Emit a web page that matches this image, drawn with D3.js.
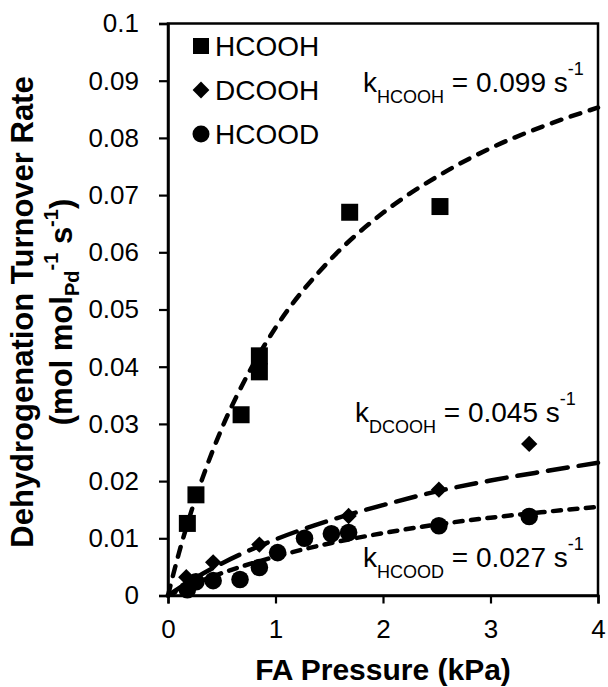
<!DOCTYPE html>
<html>
<head>
<meta charset="utf-8">
<script src="https://cdn.jsdelivr.net/npm/d3@7"></script>
<style>
  html, body { margin: 0; padding: 0; background: #fff; }
  svg { display: block; }
  text { font-family: "Liberation Sans", Arial, sans-serif; fill: #000; }
</style>
</head>
<body>
<svg id="chart" width="608" height="687"></svg>
<script>
// Measured turnover rates (mol mol_Pd^-1 s^-1) versus formic acid pressure (kPa)
const hcoohP    = [0.18, 0.26, 0.68, 0.85, 0.85, 1.69, 2.53];
const hcoohRate = [0.0126, 0.0176, 0.0316, 0.0391, 0.0419, 0.0670, 0.0680];

const dcoohP    = [0.17, 0.42, 0.85, 1.68, 2.52, 3.36];
const dcoohRate = [0.0032, 0.0058, 0.0089, 0.0139, 0.0185, 0.0265];

const hcoodP    = [0.18, 0.26, 0.42, 0.67, 0.85, 1.02, 1.27, 1.52, 1.68, 2.52, 3.36];
const hcoodRate = [0.0010, 0.0024, 0.0026, 0.0028, 0.0049, 0.0075, 0.0100, 0.0108, 0.0110, 0.0122, 0.0138];

// Fitted rate curves, sampled along pressure
const fitHcoohP    = [0, 0.05, 0.1, 0.2, 0.3, 0.5, 0.75, 1, 1.5, 2, 2.5, 3, 3.5, 4];
const fitHcoohRate = [0, 0.00375, 0.0073, 0.0137, 0.0194, 0.0292, 0.0389, 0.0468, 0.0585, 0.0669, 0.0732, 0.0782, 0.0821, 0.0853];

const fitDcoohP    = [0, 0.25, 0.5, 1, 1.5, 2, 2.5, 3, 3.5, 4];
const fitDcoohRate = [0, 0.0030, 0.0056, 0.0098, 0.0131, 0.0158, 0.0182, 0.0201, 0.0217, 0.0232];

const fitHcoodP    = [0, 0.25, 0.5, 1, 1.5, 2, 2.5, 3, 3.5, 4];
const fitHcoodRate = [0, 0.0021, 0.0039, 0.0068, 0.0091, 0.0109, 0.0124, 0.0136, 0.0146, 0.0155];

const seriesNames = ["HCOOH", "DCOOH", "HCOOD"];
const rateConstants = [
  { sub: "HCOOH", value: "0.099" },
  { sub: "DCOOH", value: "0.045" },
  { sub: "HCOOD", value: "0.027" }
];

const xTicks = [0, 1, 2, 3, 4];
const xTickLabels = ["0", "1", "2", "3", "4"];
const yTicks = [0, 0.01, 0.02, 0.03, 0.04, 0.05, 0.06, 0.07, 0.08, 0.09, 0.1];
const yTickLabels = ["0", "0.01", "0.02", "0.03", "0.04", "0.05", "0.06", "0.07", "0.08", "0.09", "0.1"];

const svg = d3.select("#chart");
const plotLeft = 168, plotRight = 598, plotTop = 23.5, plotBottom = 595.5;

const x = d3.scaleLinear().domain([0, 4]).range([plotLeft, plotRight]);
const y = d3.scaleLinear().domain([0, 0.1]).range([plotBottom, plotTop]);

const zip = (a, b) => a.map((v, i) => [v, b[i]]);

// Plot frame
svg.append("rect")
  .attr("x", plotLeft).attr("y", plotTop)
  .attr("width", plotRight - plotLeft).attr("height", plotBottom - plotTop)
  .attr("fill", "none").attr("stroke", "#000").attr("stroke-width", 2.5);

// Axes
const xAxis = d3.axisBottom(x).tickValues(xTicks)
  .tickFormat((d, i) => xTickLabels[i]).tickSize(8).tickPadding(16);
const yAxis = d3.axisLeft(y).tickValues(yTicks)
  .tickFormat((d, i) => yTickLabels[i]).tickSize(9).tickPadding(20);

const gx = svg.append("g").attr("transform", `translate(0,${plotBottom})`).call(xAxis);
const gy = svg.append("g").attr("transform", `translate(${plotLeft},0)`).call(yAxis);
[gx, gy].forEach(g => {
  g.select(".domain").attr("stroke", "#000").attr("stroke-width", 2.5);
  g.selectAll(".tick line").attr("stroke", "#000").attr("stroke-width", 2.2);
  g.selectAll(".tick text")
    .style("font-family", '"Liberation Sans", Arial, sans-serif')
    .style("font-size", "26px").attr("fill", "#000");
});

// Fit curves
const line = d3.line().x(d => x(d[0])).y(d => y(d[1])).curve(d3.curveMonotoneX);
const curves = [
  { pts: zip(fitHcoohP, fitHcoohRate), dash: "10,10" },
  { pts: zip(fitDcoohP, fitDcoohRate), dash: "20,11" },
  { pts: zip(fitHcoodP, fitHcoodRate), dash: "8,8.5" }
];
const plot = svg.append("g");
curves.forEach(c => {
  plot.append("path")
    .attr("d", line(c.pts))
    .attr("fill", "none").attr("stroke", "#000")
    .attr("stroke-width", 4.5).attr("stroke-linecap", "round")
    .attr("stroke-dasharray", c.dash);
});

// Markers
const symbols = [
  d3.symbol().type(d3.symbolSquare).size(17 * 17),
  d3.symbol().type(d3.symbolDiamond2).size(170),
  d3.symbol().type(d3.symbolCircle).size(Math.PI * 8.8 * 8.8)
];
const pointSets = [zip(hcoohP, hcoohRate), zip(dcoohP, dcoohRate), zip(hcoodP, hcoodRate)];
pointSets.forEach((pts, s) => {
  plot.selectAll(null).data(pts).enter().append("path")
    .attr("d", symbols[s])
    .attr("transform", d => `translate(${x(d[0])},${y(d[1])})`)
    .attr("fill", "#000");
});

// Legend
const legend = svg.append("g");
const legendSymbols = [
  d3.symbol().type(d3.symbolSquare).size(16 * 16),
  d3.symbol().type(d3.symbolDiamond2).size(180),
  d3.symbol().type(d3.symbolCircle).size(Math.PI * 8.5 * 8.5)
];
seriesNames.forEach((name, i) => {
  const cy = 46 + i * 44;
  legend.append("path").attr("d", legendSymbols[i])
    .attr("transform", `translate(201,${cy})`).attr("fill", "#000");
  legend.append("text").attr("x", 215).attr("y", cy + 9.5)
    .style("font-size", "28px").text(name);
});

// Rate-constant annotations
const annoPos = [[363, 92], [355, 422], [363, 567]];
rateConstants.forEach((rc, i) => {
  const t = svg.append("text").attr("x", annoPos[i][0]).attr("y", annoPos[i][1])
    .style("font-size", "28px");
  t.append("tspan").text("k");
  t.append("tspan").attr("dy", 11).style("font-size", "18px").text(rc.sub);
  t.append("tspan").attr("dy", -11).text(` = ${rc.value} s`);
  t.append("tspan").attr("dy", -17).style("font-size", "18px").text("-1");
});

// Axis titles
svg.append("text")
  .attr("x", (plotLeft + plotRight) / 2).attr("y", 680)
  .attr("text-anchor", "middle")
  .style("font-size", "30px").style("font-weight", "bold")
  .text("FA Pressure (kPa)");

const yTitleCenter = 312;
svg.append("text")
  .attr("transform", `translate(33,${yTitleCenter}) rotate(-90)`)
  .attr("text-anchor", "middle")
  .style("font-size", "31px").style("font-weight", "bold")
  .text("Dehydrogenation Turnover Rate");

const yt2 = svg.append("text")
  .attr("transform", `translate(72,${yTitleCenter}) rotate(-90)`)
  .attr("text-anchor", "middle")
  .style("font-size", "31px").style("font-weight", "bold");
yt2.append("tspan").text("(mol mol");
yt2.append("tspan").attr("dy", 7).style("font-size", "20px").text("Pd");
yt2.append("tspan").attr("dy", -21).style("font-size", "20px").text("-1");
yt2.append("tspan").attr("dy", 14).text(" s");
yt2.append("tspan").attr("dy", -14).style("font-size", "20px").text("-1");
yt2.append("tspan").attr("dy", 14).text(")");
</script>
</body>
</html>
